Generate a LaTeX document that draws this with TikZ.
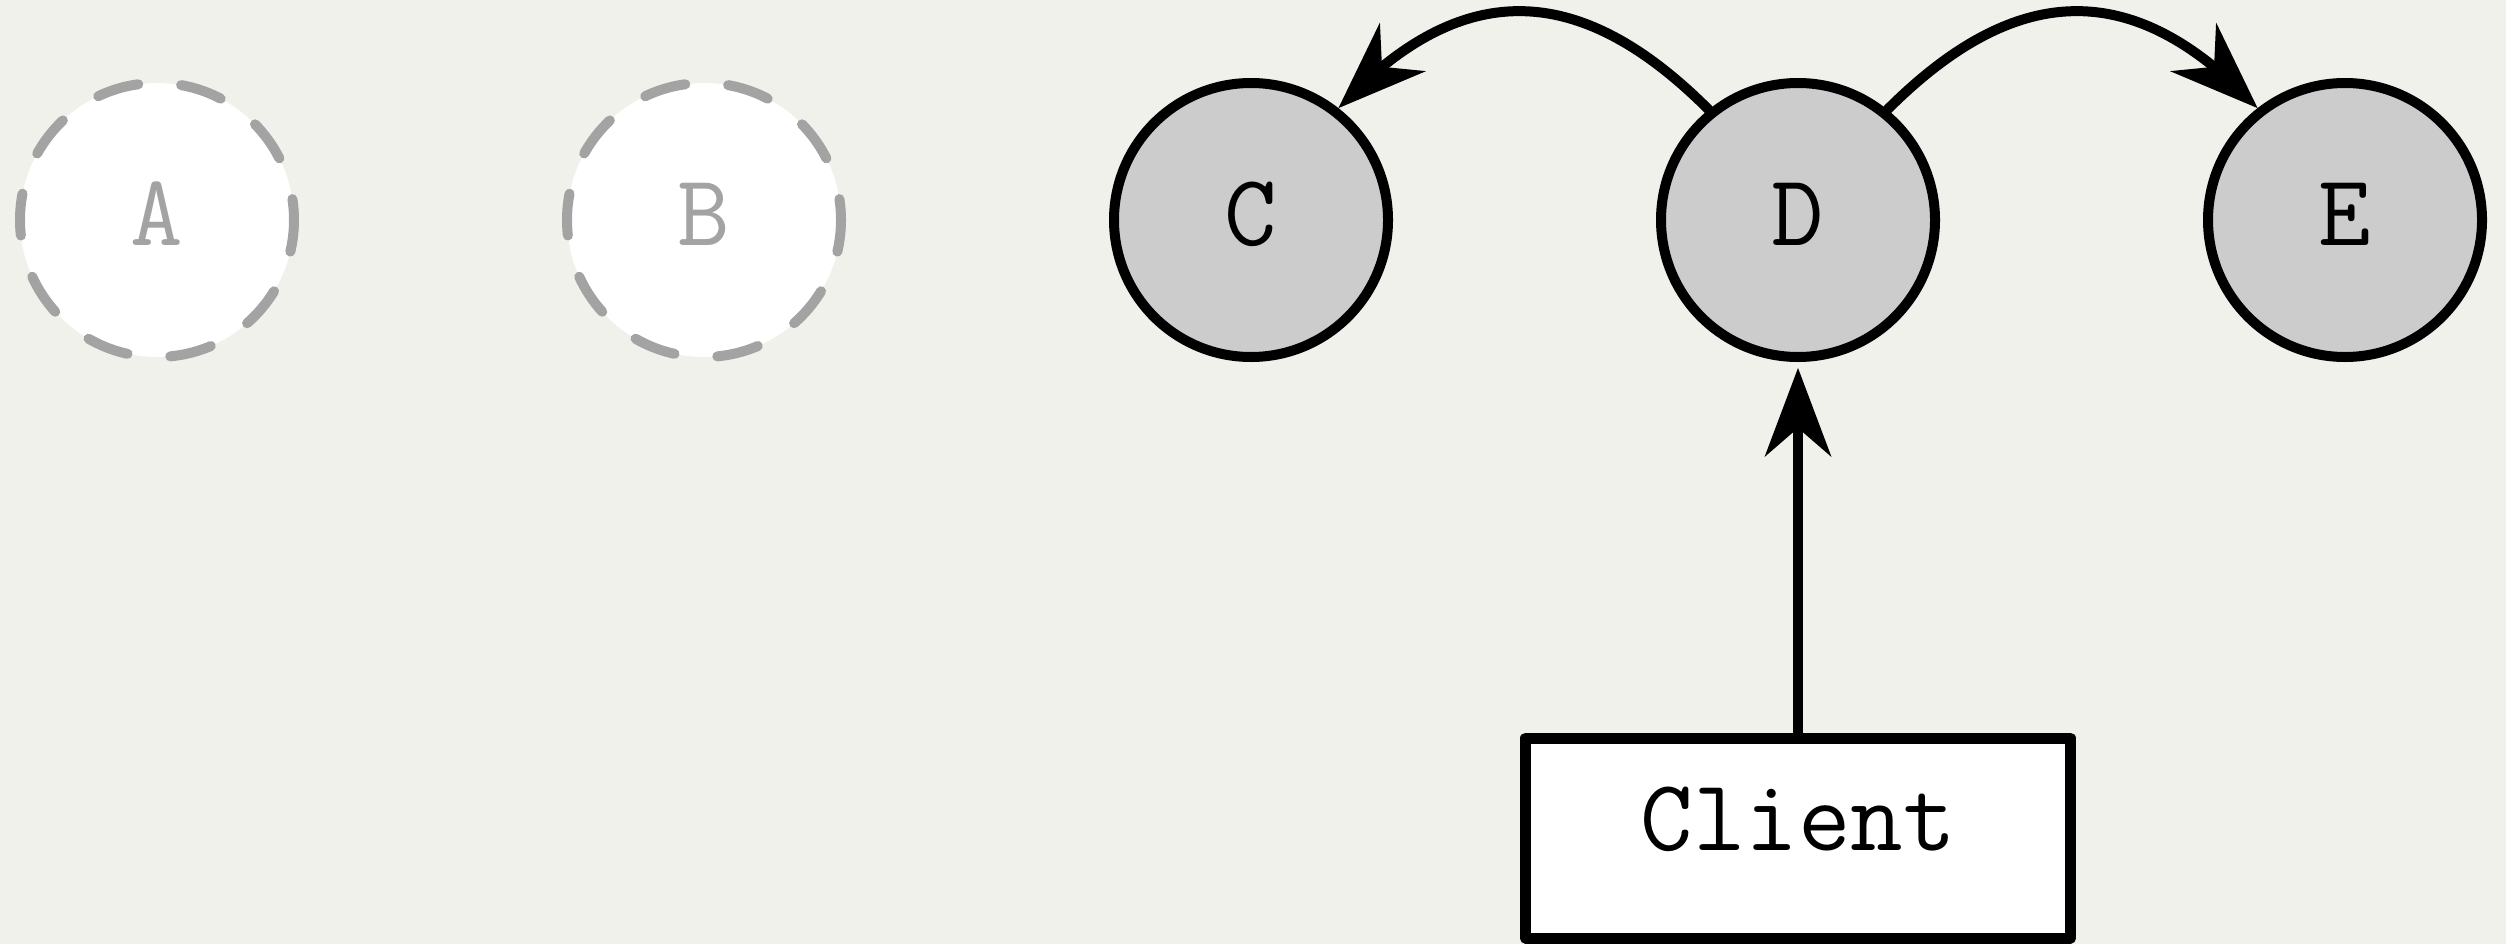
\documentclass[tikz,border=0pt]{standalone}
\usepackage{tikz}
\usetikzlibrary{arrows.meta,bending}
\definecolor{paper}{RGB}{240,241,235}
\definecolor{ghost}{RGB}{163,163,163}
\definecolor{livegray}{RGB}{204,204,204}

\tikzset{
  replica/.style={circle, draw=black, fill=livegray, line width=0.1cm,
    minimum size=2.74cm, inner sep=0pt, text height=0.62cm, text depth=0.12cm,
    font=\fontsize{29}{34}\selectfont\ttfamily},
  gone/.style={replica, draw=ghost, fill=white, text=ghost,
    dash pattern=on 0.42cm off 0.43cm, dash phase=0.21cm, line cap=round},
  clientbox/.style={rectangle, draw=black, fill=white, line width=0.11cm,
    line join=round, minimum width=5.45cm, minimum height=2.0cm, inner sep=0pt,
    text height=0.63cm, text depth=0.39cm, font=\fontsize{29}{34}\selectfont\ttfamily},
  conn/.style={-{Stealth[length=0.89cm, width=0.67cm, inset=0.29cm, line width=0pt]},
    line width=0.1cm, line cap=round}
}

\begin{document}
\begin{tikzpicture}
\fill[paper] (0,0) rectangle (25.06,-9.44);
\useasboundingbox (0,0) rectangle (25.06,-9.44);

\node[gone] (A) at (1.57,-2.20) {A};
\node[gone] (B) at (7.04,-2.20) {B};
\node[replica] (C) at (12.51,-2.20) {C};
\node[replica] (D) at (17.98,-2.20) {D};
\node[replica] (E) at (23.45,-2.20) {E};

\node[clientbox] (client) at (17.98,-8.38) {Client};

\draw[conn] (D.129) to[out=135, in=47, looseness=1.25] (C.52);
\draw[conn] (D.51) to[out=45, in=133, looseness=1.25] (E.128);
\draw[conn, shorten >=0.06cm] (client) -- (D);
\end{tikzpicture}
\end{document}
